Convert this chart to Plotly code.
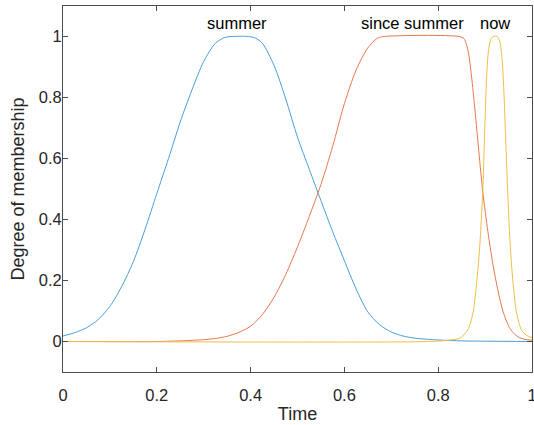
import plotly.graph_objects as go

# ---- data ----
summer_x = [0.000, 0.025, 0.050, 0.075, 0.100, 0.125, 0.150, 0.175, 0.200, 0.225,
            0.250, 0.275, 0.300, 0.325, 0.345, 0.360, 0.395, 0.410, 0.425, 0.450,
            0.475, 0.500, 0.525, 0.550, 0.575, 0.600, 0.625, 0.650, 0.675, 0.700,
            0.725, 0.750, 0.800, 0.850, 0.900, 1.000]
summer_y = [0.018, 0.029, 0.045, 0.072, 0.115, 0.180, 0.262, 0.368, 0.485, 0.600,
            0.720, 0.825, 0.918, 0.978, 0.997, 1.000, 1.000, 0.995, 0.978, 0.905,
            0.795, 0.670, 0.565, 0.462, 0.360, 0.265, 0.172, 0.097, 0.055, 0.031,
            0.018, 0.011, 0.005, 0.002, 0.001, 0.000]

since_x = [0.000, 0.200, 0.250, 0.300, 0.325, 0.350, 0.375, 0.400, 0.425, 0.450,
           0.475, 0.500, 0.525, 0.550, 0.575, 0.600, 0.625, 0.650, 0.670, 0.685,
           0.845, 0.855, 0.864, 0.871, 0.878, 0.885, 0.895, 0.906, 0.917, 0.927,
           0.938, 0.952, 0.963, 0.973, 0.985, 1.000]
since_y = [0.000, 0.000, 0.002, 0.006, 0.010, 0.017, 0.030, 0.050, 0.088, 0.145,
           0.220, 0.310, 0.410, 0.515, 0.640, 0.780, 0.890, 0.963, 0.994, 1.000,
           1.000, 0.993, 0.950, 0.870, 0.765, 0.650, 0.491, 0.360, 0.250, 0.170,
           0.100, 0.045, 0.024, 0.013, 0.007, 0.004]

now_x = [0.000, 0.780, 0.820, 0.846, 0.863, 0.874, 0.883, 0.888, 0.892, 0.895,
         0.899, 0.903, 0.907, 0.912, 0.917, 0.926, 0.931, 0.936, 0.940, 0.944,
         0.948, 0.952, 0.956, 0.960, 0.966, 0.972, 0.977, 0.985, 1.000]
now_y = [0.000, 0.000, 0.004, 0.011, 0.038, 0.093, 0.210, 0.300, 0.400, 0.491,
         0.680, 0.860, 0.950, 0.990, 1.000, 1.000, 0.985, 0.930, 0.820, 0.660,
         0.500, 0.360, 0.260, 0.185, 0.104, 0.062, 0.040, 0.024, 0.012]

labels = ["summer", "since summer", "now"]
label_x = [0.372, 0.746, 0.922]
label_y = [1.045, 1.045, 1.045]

tick_vals = [0, 0.2, 0.4, 0.6, 0.8, 1]
tick_text = ["0", "0.2", "0.4", "0.6", "0.8", "1"]

colors = ["#4A9ED9", "#E5784F", "#F0BE45"]
FONT = "Liberation Sans, Arial, Helvetica, sans-serif"
TXT = "#262626"

fig = go.Figure()
for xs, ys, c in [(summer_x, summer_y, colors[0]),
                  (since_x, since_y, colors[1]),
                  (now_x, now_y, colors[2])]:
    fig.add_trace(go.Scatter(x=xs, y=ys, mode="lines",
                             line=dict(color=c, width=1, shape="spline", smoothing=0.8),
                             showlegend=False, hoverinfo="skip", cliponaxis=True))

for t, lx, ly in zip(labels, label_x, label_y):
    fig.add_annotation(x=lx, y=ly, text=t, showarrow=False, xanchor="center",
                       yanchor="middle", font=dict(family=FONT, size=16.5, color="#000000"))

axis_common = dict(showline=True, linecolor="#4D4D4D", linewidth=1, mirror="ticks",
                   ticks="inside", ticklen=5, tickcolor="#4D4D4D", showgrid=False,
                   zeroline=False, automargin=False, ticklabeloverflow="allow",
                   tickfont=dict(family=FONT, size=16.5, color=TXT))

fig.update_xaxes(range=[0, 1], tickvals=tick_vals, ticktext=tick_text,
                 ticklabelstandoff=8,
                 title=dict(text="Time", font=dict(family=FONT, size=18, color=TXT), standoff=4),
                 **axis_common)
fig.update_yaxes(range=[-0.1, 1.1], tickvals=tick_vals, ticktext=tick_text,
                 ticklabelstandoff=-3,
                 title=dict(text="Degree of membership", font=dict(family=FONT, size=18, color=TXT), standoff=9),
                 **axis_common)

fig.update_layout(width=534, height=425, margin=dict(l=63, r=2, t=6, b=53, autoexpand=False),
                  plot_bgcolor="white", paper_bgcolor="white")

fig.write_html("out.html", config={"displayModeBar": False},
               post_script="document.body.style.margin='0';")
